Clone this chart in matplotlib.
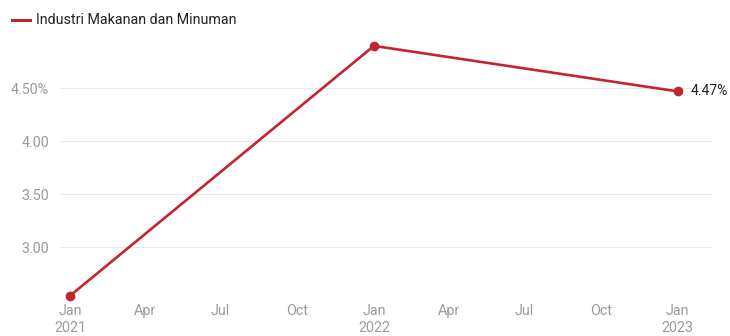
import matplotlib
matplotlib.use("Agg")
import matplotlib.pyplot as plt
import matplotlib.dates as mdates
import numpy as np
from datetime import datetime, timedelta

plt.rcParams['font.family'] = ['Roboto', 'DejaVu Sans']

# data
fechas = [datetime(2021, 1, 1), datetime(2022, 1, 1), datetime(2023, 1, 1)]
valores = [2.54, 4.90, 4.47]
serie = "Industri Makanan dan Minuman"
y_ticks = [3.00, 3.50, 4.00, 4.50]
y_labels = ["3.00", "3.50", "4.00", "4.50%"]
x_ticks = [datetime(2021, m, 1) for m in (1, 4, 7, 10)] + \
          [datetime(2022, m, 1) for m in (1, 4, 7, 10)] + [datetime(2023, 1, 1)]
x_labels = ["Jan\n2021", "Apr", "Jul", "Oct", "Jan\n2022", "Apr", "Jul", "Oct", "Jan\n2023"]

color = "#c0262d"
grey = "#9a9a9a"

fig = plt.figure(figsize=(7.3, 3.36), dpi=100)
ax = fig.add_axes([60 / 730, 1 - 300 / 336, (712 - 60) / 730, (300 - 30) / 336])

ax.plot(fechas, valores, color=color, lw=1.9, marker="o", ms=6, zorder=3, clip_on=False)

ax.set_xlim(fechas[0] - timedelta(days=12), fechas[-1] + timedelta(days=41))
ax.set_ylim(2.50, 5.05)

ax.set_yticks(y_ticks)
ax.set_yticklabels(y_labels)
ax.set_xticks(x_ticks)
ax.set_xticklabels(x_labels, linespacing=1.3)
ax.tick_params(axis="both", length=0, colors=grey, labelsize=10.3)
ax.tick_params(axis="y", pad=8)
ax.tick_params(axis="x", pad=3)
for lbl in ax.get_yticklabels():
    lbl.set_horizontalalignment("right")

ax.grid(axis="y", color="#e8e8e8", lw=0.8)
ax.set_axisbelow(True)
for s in ax.spines.values():
    s.set_visible(False)

# etiqueta del ultimo valor
ax.annotate(f"{valores[-1]:.2f}%", (fechas[-1], valores[-1]), xytext=(9, 0),
            textcoords="offset points", va="center", ha="left", fontsize=10, color="#222222")

# leyenda
fig.lines.append(plt.Line2D([12 / 730, 30 / 730], [1 - 20 / 336] * 2, color=color, lw=2.2,
                            transform=fig.transFigure))
fig.text(36 / 730, 1 - 20 / 336, serie, va="center", ha="left", fontsize=10.3, color="#222222")

fig.savefig("out.png", dpi=100)
